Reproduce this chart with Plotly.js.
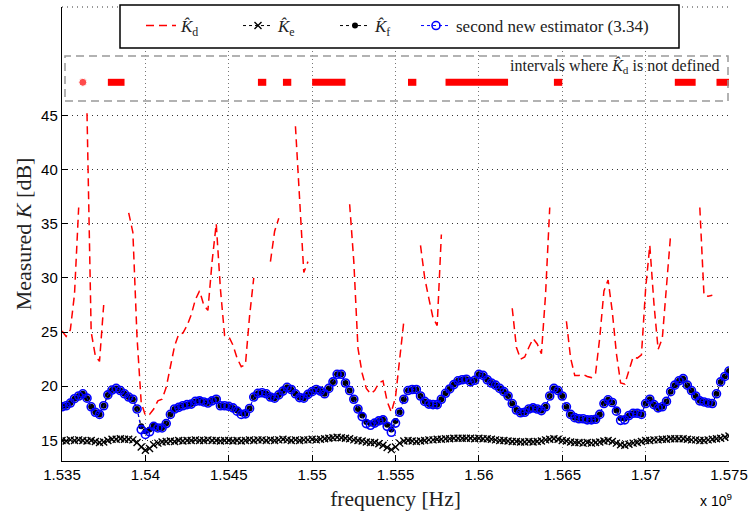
<!DOCTYPE html>
<html>
<head>
<meta charset="utf-8">
<script src="https://cdn.plot.ly/plotly-3.0.1.min.js"></script>
<style>html,body{margin:0;padding:0;background:#fff;}#chart{width:750px;height:513px;}</style>
</head>
<body>
<div id="chart"></div>
<script>
// ---- data ----
const freqStartHz = 1.535e9;
const freqStepHz = 0.25e6;
const nPoints = 161;

const xTickVals = [1.535e9, 1.540e9, 1.545e9, 1.550e9, 1.555e9, 1.560e9, 1.565e9, 1.570e9, 1.575e9];
const xTickText = ['1.535', '1.54', '1.545', '1.55', '1.555', '1.56', '1.565', '1.57', '1.575'];
const yTickVals = [15, 20, 25, 30, 35, 40, 45];
const yTickText = ['15', '20', '25', '30', '35', '40', '45'];

// K_d (null where not defined)
const Kd = [25.1,24.6,25.2,28.5,36.5,null,45.2,25.0,22.8,22.3,
 27.5,null,null,null,null,null,36.0,34.2,24.5,18.5,
 17.3,17.4,17.9,18.65,18.8,19.9,21.8,23.7,24.8,24.9,
 25.6,26.6,28.0,28.8,27.5,27.0,31.5,35.0,29.0,24.7,
 24.6,23.8,22.6,21.8,22.0,26.5,30.0,null,null,null,
 31.5,34.3,35.5,null,null,null,44.0,37.5,30.5,31.5,
 null,null,null,null,null,null,null,null,null,36.8,
 31.5,23.5,21.2,19.8,19.3,19.6,20.3,20.5,18.6,17.6,
 19.0,22.5,26.0,null,null,null,33.0,30.0,28.1,26.3,
 25.6,34.0,null,null,null,null,null,null,null,null,
 null,null,null,null,null,null,null,null,27.2,23.6,
 22.5,22.7,23.6,24.4,23.9,23.0,28.5,36.5,null,null,
 null,26.0,22.6,21.0,21.0,21.1,20.9,20.8,21.2,24.5,
 28.8,29.8,26.9,23.0,20.3,20.2,21.5,22.7,22.6,22.9,
 29.0,33.0,27.6,23.4,24.4,29.5,34.0,null,null,null,
 null,null,null,36.5,28.4,28.3,28.4,null,null,null,
 null];

// K_e
const Ke = [15.0,14.95,15.05,15.0,15.05,15.0,14.95,15.0,14.9,14.8,
 14.85,15.0,15.1,15.1,15.15,15.1,15.1,15.05,14.8,14.4,
 14.1,14.25,14.6,14.75,14.85,14.9,14.95,14.9,15.0,14.95,
 15.0,15.0,15.05,15.0,15.0,15.05,15.0,15.0,14.95,15.0,
 15.0,14.95,15.0,14.95,15.0,15.05,15.0,15.05,15.05,15.0,
 15.05,15.0,15.05,15.1,15.05,15.0,15.05,15.0,15.05,15.05,
 15.1,15.05,15.1,15.15,15.2,15.25,15.3,15.25,15.2,15.15,
 15.05,15.0,14.95,14.85,14.8,14.8,14.7,14.55,14.35,14.15,
 14.4,14.75,14.95,15.0,14.95,14.9,14.95,15.0,15.05,15.05,
 15.1,15.1,15.15,15.15,15.2,15.2,15.2,15.2,15.2,15.15,
 15.2,15.15,15.15,15.1,15.05,15.0,15.0,14.95,14.9,14.9,
 14.85,14.85,14.9,14.85,14.9,14.95,15.05,15.1,15.15,15.1,
 15.0,14.95,14.85,14.8,14.8,14.75,14.8,14.75,14.8,14.85,
 14.95,15.0,14.9,14.75,14.6,14.55,14.65,14.75,14.8,14.9,
 15.0,15.0,15.05,15.05,15.1,15.1,15.15,15.15,15.15,15.15,
 15.1,15.05,15.05,15.0,15.0,15.05,15.1,15.15,15.2,15.3,
 15.4];

// K_f
const Kf = [18.1,18.2,18.45,18.85,19.1,19.3,18.9,18.1,17.6,17.4,
 18.2,19.2,19.65,19.8,19.6,19.3,19.0,18.8,17.9,16.3,
 15.85,16.0,16.35,16.15,16.15,16.55,17.4,17.9,18.05,18.2,
 18.3,18.35,18.6,18.65,18.55,18.45,18.65,18.8,18.2,18.2,
 18.15,18.0,17.75,17.5,17.45,17.95,19.0,19.35,19.4,19.3,
 19.0,18.9,19.2,19.55,19.9,19.7,19.3,18.95,18.9,19.25,
 19.5,19.7,19.55,19.3,19.8,20.4,21.1,21.1,20.3,19.6,
 18.8,17.9,17.3,16.7,16.55,16.6,16.8,16.9,16.45,16.0,
 16.8,17.6,18.8,19.6,19.7,19.7,19.1,18.6,18.35,18.3,
 18.3,18.8,19.35,19.75,20.15,20.5,20.6,20.65,20.4,20.55,
 21.1,21.0,20.6,20.3,20.1,19.8,19.5,19.1,18.4,17.8,
 17.55,17.6,17.9,18.0,17.9,17.75,18.1,19.1,19.8,19.6,
 19.1,18.1,17.4,17.1,17.0,17.0,16.9,16.9,16.95,17.4,
 18.4,18.75,18.5,17.75,17.05,17.0,17.3,17.5,17.5,17.4,
 18.4,18.8,18.3,18.0,18.1,18.6,19.5,20.1,20.5,20.7,
 20.1,19.6,19.1,18.65,18.55,18.45,18.4,19.3,20.4,20.9,
 21.4];

// second new estimator (3.34)
const Knew = [18.1,18.2,18.45,18.85,19.1,19.3,18.9,18.1,17.6,17.4,
 18.2,19.2,19.65,19.8,19.6,19.3,19.0,18.8,17.9,16.0,
 15.55,15.8,16.3,16.15,16.15,16.55,17.4,17.9,18.05,18.2,
 18.3,18.35,18.6,18.65,18.55,18.45,18.65,18.8,18.2,18.2,
 18.15,18.0,17.7,17.4,17.45,17.95,19.0,19.35,19.4,19.3,
 19.0,18.9,19.2,19.55,19.9,19.7,19.3,18.95,18.9,19.25,
 19.5,19.7,19.55,19.3,19.8,20.4,21.1,21.1,20.3,19.6,
 18.8,17.9,17.2,16.55,16.4,16.6,16.8,16.9,16.3,15.75,
 16.6,17.6,18.8,19.6,19.7,19.7,19.1,18.6,18.35,18.3,
 18.3,18.8,19.35,19.75,20.15,20.5,20.6,20.65,20.4,20.55,
 21.1,21.0,20.6,20.3,20.1,19.8,19.5,19.1,18.4,17.8,
 17.55,17.6,17.9,18.0,17.9,17.75,18.1,19.1,19.8,19.6,
 19.1,18.1,17.4,17.1,17.0,17.0,16.9,16.9,16.95,17.4,
 18.4,18.75,18.5,17.7,16.85,16.9,17.3,17.5,17.5,17.4,
 18.4,18.8,18.3,18.0,18.1,18.6,19.5,20.1,20.5,20.7,
 20.1,19.6,19.1,18.65,18.55,18.45,18.4,19.3,20.4,20.9,
 21.4];

// ---- build ----
const freq = [];
for (let i = 0; i < nPoints; i++) freq.push(freqStartHz + i * freqStepHz);

const insetLevel = 48.05;
const undefY = Kd.map(v => v === null ? insetLevel : null);
const undefSize = Kd.map((v, i) => {
  if (v !== null) return 0;
  const prevU = i > 0 && Kd[i - 1] === null;
  const nextU = i < Kd.length - 1 && Kd[i + 1] === null;
  return (!prevU && !nextU) ? 8 : 0;
});

const hat = 'K\u0302';
const serif = 'Liberation Serif, Times New Roman, serif';
const sans = 'Liberation Sans, Arial, sans-serif';

const traces = [
  {x: freq, y: Kd, type: 'scatter', mode: 'lines', name: '<i>' + hat + '</i><sub>d</sub>',
   line: {color: '#ff0000', width: 1.5, dash: '8px,5px'}, connectgaps: false, legend: 'legend'},
  {x: freq, y: Ke, type: 'scatter', mode: 'lines+markers', name: '<i>' + hat + '</i><sub>e</sub>',
   line: {color: '#000', width: 1, dash: 'dot'}, legend: 'legend',
   marker: {symbol: 'x-thin-open', size: 7, color: '#000', line: {color: '#000', width: 1.4}}},
  {x: freq, y: Kf, type: 'scatter', mode: 'lines+markers', name: '<i>' + hat + '</i><sub>f</sub>',
   line: {color: '#000', width: 1, dash: 'dot'}, legend: 'legend',
   marker: {symbol: 'circle', size: 6, color: '#000'}},
  {x: freq, y: Knew, type: 'scatter', mode: 'lines+markers', name: 'second new estimator (3.34)',
   line: {color: '#0000ff', width: 1, dash: 'dot'}, legend: 'legend2',
   marker: {symbol: 'circle-open', size: 8, color: '#0000ff', line: {width: 1.6, color: '#0000ff'}}},
  {x: freq, y: undefY, type: 'scatter', mode: 'lines+markers', showlegend: false,
   line: {color: '#ff0000', width: 7}, connectgaps: false,
   marker: {symbol: 'circle', size: undefSize, color: '#ff0000'}}
];

const L = 62, R = 729, T = 7, B = 461;
const px2paperX = p => (p - L) / (R - L);
const px2paperY = p => (B - p) / (B - T);

const legendFont = {family: serif, size: 17, color: '#222'};

const layout = {
  width: 750, height: 513,
  margin: {l: L, r: 750 - R, t: T, b: 513 - B, pad: 0},
  paper_bgcolor: '#fff', plot_bgcolor: '#fff',
  showlegend: true,
  xaxis: {
    range: [1.535e9, 1.575e9], tickvals: xTickVals, ticktext: xTickText,
    showline: true, linecolor: '#000', linewidth: 1.2, mirror: false,
    ticks: 'inside', ticklen: 6, tickcolor: '#000', tickwidth: 1,
    showgrid: true, gridcolor: '#777', gridwidth: 1, griddash: '1px,3px',
    zeroline: false,
    tickfont: {family: sans, size: 15, color: '#000'},
    title: {text: 'frequency [Hz]', font: {family: serif, size: 21.5, color: '#222'}, standoff: 8}
  },
  yaxis: {
    range: [13.1, 55], tickvals: yTickVals, ticktext: yTickText,
    showline: true, linecolor: '#000', linewidth: 1.2, mirror: false,
    ticks: 'inside', ticklen: 6, tickcolor: '#000', tickwidth: 1,
    showgrid: true, gridcolor: '#333', gridwidth: 1, griddash: '1px,4px',
    zeroline: false,
    tickfont: {family: sans, size: 15, color: '#000'},
    title: {text: 'Measured <i>K</i> [dB]', font: {family: serif, size: 22, color: '#222'}, standoff: 3}
  },
  legend: {
    orientation: 'h', x: px2paperX(141), xanchor: 'left', y: px2paperY(26), yanchor: 'middle',
    bgcolor: 'rgba(0,0,0,0)', borderwidth: 0, font: legendFont, entrywidth: 52
  },
  legend2: {
    orientation: 'h', x: px2paperX(416), xanchor: 'left', y: px2paperY(26), yanchor: 'middle',
    bgcolor: 'rgba(0,0,0,0)', borderwidth: 0, font: legendFont
  },
  shapes: [
    {type: 'line', xref: 'paper', yref: 'paper', x0: 0, x1: 1, y0: 1, y1: 1,
     line: {color: '#333', width: 1, dash: '1px,4px'}, layer: 'below'},
    {type: 'rect', xref: 'paper', yref: 'paper', x0: px2paperX(120), x1: px2paperX(679),
     y0: px2paperY(48), y1: px2paperY(5), fillcolor: '#fff',
     line: {color: '#000', width: 1.5}, layer: 'above'},
    {type: 'rect', xref: 'paper', yref: 'paper', x0: px2paperX(65), x1: px2paperX(728),
     y0: px2paperY(101), y1: px2paperY(56),
     line: {color: '#999', width: 1.5, dash: '8px,5px'}, layer: 'above'}
  ],
  annotations: [
    {xref: 'paper', yref: 'paper', x: px2paperX(722), y: px2paperY(66), xanchor: 'right', yanchor: 'middle',
     showarrow: false, text: 'intervals where <i>' + hat + '</i><sub>d</sub> is not defined',
     font: {family: serif, size: 16, color: '#222'}},
    {xref: 'paper', yref: 'paper', x: px2paperX(698), y: px2paperY(500), xanchor: 'left', yanchor: 'middle',
     showarrow: false, text: 'x 10<sup>9</sup>', font: {family: sans, size: 14, color: '#000'}}
  ]
};

Plotly.newPlot('chart', traces, layout, {staticPlot: true, displayModeBar: false});
</script>
</body>
</html>
